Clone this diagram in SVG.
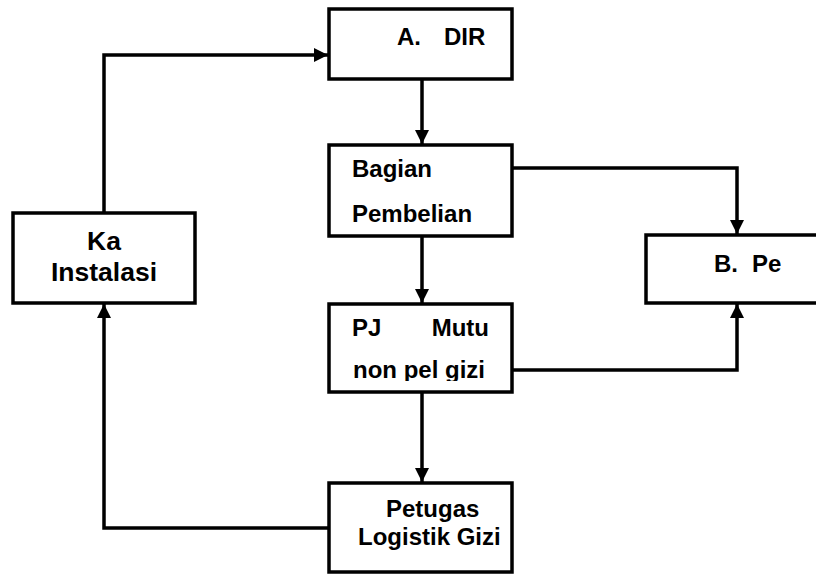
<svg xmlns="http://www.w3.org/2000/svg" width="816" height="574" viewBox="0 0 816 574">
  <style>
    .box { fill: #fff; stroke: #000; stroke-width: 3.5; }
    .lbl { font-family: "Liberation Sans", Arial, sans-serif; font-weight: bold; font-size: 24px; fill: #000; }
    .big { font-size: 26.5px; }
    .wire { fill: none; stroke: #000; stroke-width: 3.5; }
  </style>
  <defs>
    <marker id="arrow" viewBox="0 0 10 10" refX="10" refY="5" markerWidth="4" markerHeight="4" orient="auto" markerUnits="strokeWidth">
      <path d="M0,0 L10,5 L0,10 z" fill="#000"/>
    </marker>
    <clipPath id="pjClip">
      <rect x="331" y="306" width="179" height="75"/>
    </clipPath>
  </defs>
  <rect width="816" height="574" fill="#fff"/>

  <g id="connectors">
    <!-- Ka Instalasi up and across to A. DIR -->
    <polyline class="wire" points="104,213 104,55 328,55" marker-end="url(#arrow)"/>
    <!-- A. DIR down to Bagian Pembelian -->
    <line class="wire" x1="422" y1="79" x2="422" y2="144" marker-end="url(#arrow)"/>
    <!-- Bagian Pembelian down to PJ Mutu -->
    <line class="wire" x1="422" y1="236" x2="422" y2="303" marker-end="url(#arrow)"/>
    <!-- PJ Mutu down to Petugas Logistik Gizi -->
    <line class="wire" x1="422" y1="392" x2="422" y2="482" marker-end="url(#arrow)"/>
    <!-- Bagian Pembelian across and down to B. Pe -->
    <polyline class="wire" points="512,168 737,168 737,234" marker-end="url(#arrow)"/>
    <!-- PJ Mutu across and up to B. Pe -->
    <polyline class="wire" points="512,370 737,370 737,304" marker-end="url(#arrow)"/>
    <!-- Petugas Logistik Gizi across and up to Ka Instalasi -->
    <polyline class="wire" points="329,528 104,528 104,304" marker-end="url(#arrow)"/>
  </g>

  <g id="dir">
    <rect class="box" x="329" y="9" width="183" height="70"/>
    <text class="lbl" x="397" y="45">A.<tspan x="444">DIR</tspan></text>
  </g>

  <g id="pembelian">
    <rect class="box" x="329" y="145" width="183" height="91"/>
    <text class="lbl" x="352" y="177">Bagian</text>
    <text class="lbl" x="352" y="222">Pembelian</text>
  </g>

  <g id="pj-mutu">
    <rect class="box" x="329" y="304" width="183" height="88"/>
    <g clip-path="url(#pjClip)">
      <text class="lbl" x="352" y="336">PJ</text>
      <text class="lbl" x="489" y="336" text-anchor="end">Mutu</text>
      <text class="lbl" x="353" y="378">non pel gizi</text>
    </g>
  </g>

  <g id="b-pe">
    <rect class="box" x="646" y="235" width="190" height="68"/>
    <text class="lbl" x="714" y="272">B.<tspan x="752">Pe</tspan></text>
  </g>

  <g id="ka-instalasi">
    <rect class="box" x="13" y="213" width="182" height="90"/>
    <text class="lbl big" x="104" y="250" text-anchor="middle">Ka</text>
    <text class="lbl big" x="104" y="281" text-anchor="middle">Instalasi</text>
  </g>

  <g id="petugas">
    <rect class="box" x="329" y="483" width="183" height="89"/>
    <text class="lbl" x="386" y="517">Petugas</text>
    <text class="lbl" x="358" y="545">Logistik Gizi</text>
  </g>
</svg>
